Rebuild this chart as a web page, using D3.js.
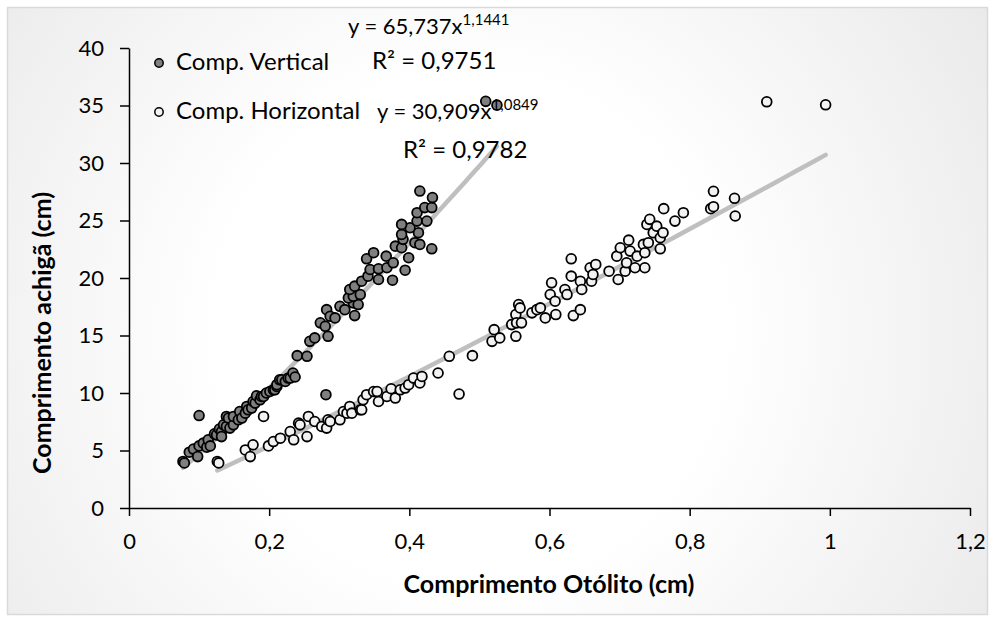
<!DOCTYPE html>
<html>
<head>
<meta charset="utf-8">
<script src="https://cdn.jsdelivr.net/npm/d3@7/dist/d3.min.js"></script>
<style>
  body { margin: 0; background: #fff; }
  text { font-family: Lato, "Open Sans", sans-serif; fill: #000; }
</style>
</head>
<body>
<div id="chart"></div>
<script>
// Comp. Vertical (gray dots)
var vertOtolith = [0.077,0.079,0.086,0.092,0.098,0.100,0.100,0.106,0.111,0.113,0.116,0.122,0.125,0.129,0.132,0.132,0.135,0.139,0.139,0.142,
  0.144,0.149,0.149,0.156,0.158,0.161,0.166,0.168,0.170,0.175,0.177,0.180,0.182,0.187,0.189,0.192,0.196,0.201,0.206,0.208,
  0.211,0.211,0.215,0.218,0.223,0.227,0.230,0.234,0.237,0.240,0.254,0.258,0.265,0.281,0.284,0.273,0.280,0.282,0.287,0.294,
  0.301,0.308,0.322,0.320,0.327,0.313,0.320,0.330,0.315,0.322,0.332,0.341,0.356,0.376,0.344,0.356,0.368,0.394,0.339,0.349,
  0.367,0.377,0.399,0.380,0.389,0.408,0.415,0.432,0.391,0.389,0.413,0.401,0.389,0.411,0.425,0.411,0.422,0.432,0.433,0.415,
  0.509,0.525];
var vertLength = [4.05,3.92,4.85,5.12,4.47,5.40,8.04,5.64,5.29,5.93,5.40,6.45,6.36,6.86,6.65,6.21,7.23,7.96,7.09,7.82,
  6.95,7.23,7.96,7.67,8.39,7.82,8.25,8.83,8.54,8.69,9.26,9.12,9.76,9.41,9.70,9.70,10.0,10.13,10.28,10.28,
  10.57,10.72,11.15,11.15,11.0,11.30,11.30,11.74,11.39,13.25,13.19,14.49,14.79,9.85,14.93,16.10,15.80,17.25,16.67,16.53,
  17.54,17.25,16.73,17.84,17.69,18.27,18.41,18.56,19.00,19.29,19.72,20.16,19.87,19.81,20.74,20.80,20.89,20.68,21.67,22.20,
  21.90,21.32,21.76,22.77,22.63,23.07,22.92,22.54,23.36,23.79,23.94,24.37,24.66,24.95,24.95,25.68,26.12,26.12,26.99,27.56,
  35.36,35.03];

// Comp. Horizontal (white dots)
var horOtolith = [0.126,0.128,0.166,0.173,0.177,0.192,0.199,0.206,0.216,0.230,0.235,0.242,0.244,0.254,0.256,0.265,0.275,0.282,0.284,0.287,
  0.301,0.306,0.311,0.315,0.318,0.330,0.332,0.334,0.339,0.349,0.354,0.356,0.368,0.374,0.380,0.387,0.394,0.399,0.406,0.415,
  0.418,0.441,0.457,0.471,0.490,0.518,0.521,0.529,0.546,0.552,0.552,0.553,0.556,0.558,0.560,0.575,0.582,0.587,0.594,0.601,
  0.603,0.608,0.609,0.622,0.625,0.631,0.631,0.634,0.644,0.644,0.646,0.658,0.660,0.662,0.666,0.685,0.696,0.698,0.701,0.708,
  0.710,0.713,0.715,0.722,0.725,0.734,0.736,0.736,0.739,0.741,0.743,0.748,0.753,0.758,0.758,0.762,0.763,0.779,0.791,0.830,
  0.834,0.834,0.864,0.865,0.910,0.994];
var horLength = [4.05,3.92,5.05,4.47,5.49,7.96,5.40,5.78,6.07,6.65,5.93,7.38,7.23,6.21,7.96,7.52,7.09,6.95,7.67,7.52,
  7.67,8.39,8.25,8.83,8.25,8.54,8.54,9.41,9.85,10.13,10.13,9.26,9.70,10.37,9.56,10.28,10.43,10.72,11.30,10.87,
  11.44,11.74,13.19,9.91,13.25,14.49,15.51,14.79,15.95,14.93,16.82,16.10,17.69,17.40,16.10,16.97,17.25,17.40,16.53,18.56,
  19.58,17.98,16.82,19.00,18.56,21.67,20.16,16.73,17.25,19.72,19.00,20.89,19.72,20.31,21.18,20.59,21.90,19.87,22.63,20.59,
  21.32,23.29,22.34,20.89,21.90,22.92,20.89,22.20,24.66,23.07,25.10,23.94,24.51,23.50,22.54,23.94,26.03,24.95,25.68,26.03,
  26.20,27.54,26.93,25.39,35.32,35.06];

// power trendlines  y = a * x^b
var trendA = [65.737, 30.909];
var trendB = [1.1441, 1.0849];
var seriesNames = ["Comp. Vertical", "Comp. Horizontal"];
var eqLabels = [["y = 65,737x", "1,1441", "R\u00b2 = 0,9751"], ["y = 30,909x", "1,0849", "R\u00b2 = 0,9782"]];

var xTicks = [0, 0.2, 0.4, 0.6, 0.8, 1, 1.2];
var xTickLabels = ["0", "0,2", "0,4", "0,6", "0,8", "1", "1,2"];
var yTicks = [0, 5, 10, 15, 20, 25, 30, 35, 40];

var width = 994, height = 623;

var svg = d3.select("#chart").append("svg")
    .attr("width", width)
    .attr("height", height);

var defs = svg.append("defs");
var grad = defs.append("radialGradient")
    .attr("id", "bg")
    .attr("gradientUnits", "userSpaceOnUse")
    .attr("cx", 470).attr("cy", 330).attr("r", 640);
grad.append("stop").attr("offset", "0.4").attr("stop-color", "#ffffff");
grad.append("stop").attr("offset", "1").attr("stop-color", "#e8e8e8");

svg.append("rect")
    .attr("x", 7.5).attr("y", 7.5)
    .attr("width", 980).attr("height", 607)
    .attr("fill", "url(#bg)")
    .attr("stroke", "#d9d9d9")
    .attr("stroke-width", 1.5);

var x = d3.scaleLinear().domain([0, 1.2]).range([129, 970]);
var y = d3.scaleLinear().domain([0, 40]).range([508, 48]);

// axes
var xAxis = d3.axisBottom(x)
    .tickValues(xTicks)
    .tickSize(8)
    .tickSizeOuter(0)
    .tickPadding(17)
    .tickFormat(function(d, i) { return xTickLabels[i]; });
var yAxis = d3.axisLeft(y)
    .tickValues(yTicks)
    .tickSize(9)
    .tickSizeOuter(0)
    .tickPadding(16);

var gx = svg.append("g")
    .attr("transform", "translate(0," + y(0) + ")")
    .call(xAxis);
var gy = svg.append("g")
    .attr("transform", "translate(" + x(0) + ",0)")
    .call(yAxis);

[gx, gy].forEach(function(g) {
  g.select(".domain").attr("stroke", "#000").attr("stroke-width", 1.5);
  g.selectAll(".tick line").attr("stroke", "#000").attr("stroke-width", 1.5);
  g.selectAll(".tick text")
    .attr("font-family", "Lato, sans-serif")
    .attr("font-size", 22)
    .attr("fill", "#000");
});

// trendlines
var series = [
  {xs: vertOtolith, ys: vertLength, fill: "#7f7f7f"},
  {xs: horOtolith, ys: horLength, fill: "#f2f2f2"}
];

var line = d3.line()
    .x(function(d) { return x(d[0]); })
    .y(function(d) { return y(d[1]); });

series.forEach(function(s, k) {
  var ext = d3.extent(s.xs);
  var pts = d3.range(0, 61).map(function(i) {
    var xv = ext[0] + (ext[1] - ext[0]) * i / 60;
    return [xv, trendA[k] * Math.pow(xv, trendB[k])];
  });
  svg.append("path")
    .datum(pts)
    .attr("d", line)
    .attr("fill", "none")
    .attr("stroke", "#bfbfbf")
    .attr("stroke-width", 4.5)
    .attr("stroke-linecap", "round");
});

// points
series.forEach(function(s) {
  svg.append("g").selectAll("circle")
    .data(s.xs.map(function(v, i) { return [v, s.ys[i]]; }))
    .enter().append("circle")
    .attr("cx", function(d) { return x(d[0]); })
    .attr("cy", function(d) { return y(d[1]); })
    .attr("r", 4.9)
    .attr("fill", s.fill)
    .attr("stroke", "#000")
    .attr("stroke-width", 1.8);
});

// legend
var legend = svg.append("g");
[63, 112].forEach(function(ly, k) {
  legend.append("circle")
    .attr("cx", 159).attr("cy", ly)
    .attr("r", 4.2)
    .attr("fill", series[k].fill)
    .attr("stroke", "#000")
    .attr("stroke-width", 1.5);
  legend.append("text")
    .attr("x", 176).attr("y", ly + 7)
    .attr("font-size", 24)
    .text(seriesNames[k]);
});

// equation labels
var eqPos = [[348, 34, 372, 69], [377, 119, 403, 158]];
eqLabels.forEach(function(lab, k) {
  var t = svg.append("text")
    .attr("x", eqPos[k][0]).attr("y", eqPos[k][1])
    .attr("font-size", 22);
  t.append("tspan").text(lab[0]);
  t.append("tspan").attr("dy", -9).attr("font-size", 15).text(lab[1]);
  svg.append("text")
    .attr("x", eqPos[k][2]).attr("y", eqPos[k][3])
    .attr("font-size", 24)
    .text(lab[2]);
});

// axis titles
svg.append("text")
    .attr("x", 549).attr("y", 593)
    .attr("text-anchor", "middle")
    .attr("font-weight", "bold")
    .attr("font-size", 25)
    .text("Comprimento Ot\u00f3lito (cm)");

svg.append("text")
    .attr("transform", "translate(51,333) rotate(-90)")
    .attr("text-anchor", "middle")
    .attr("font-weight", "bold")
    .attr("font-size", 25)
    .text("Comprimento achig\u00e3 (cm)");
</script>
</body>
</html>
